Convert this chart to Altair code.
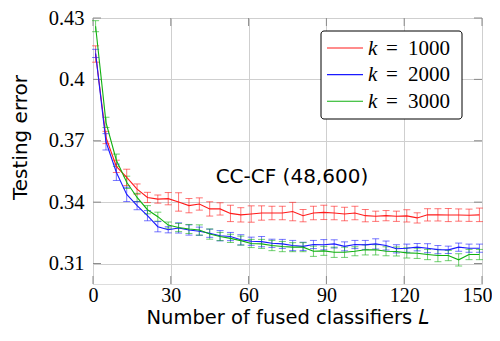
import altair as alt
import pandas as pd

L = [1, 5, 9, 13, 17, 21, 25, 29, 33, 37, 41, 45, 49, 53, 57, 61, 65, 69, 73,
     77, 81, 85, 89, 93, 97, 101, 105, 109, 113, 117, 121, 125, 129, 133, 137,
     141, 145, 149]

err_k1000 = [0.4124, 0.3716, 0.3575, 0.3521, 0.3464, 0.3423, 0.3415, 0.3417, 0.3401,
             0.3383, 0.3391, 0.3367, 0.3367, 0.3345, 0.3338, 0.3342, 0.3347, 0.3347,
             0.3347, 0.3354, 0.3334, 0.3347, 0.3350, 0.3347, 0.3342, 0.3347, 0.3334,
             0.3331, 0.3334, 0.3331, 0.3333, 0.3323, 0.3338, 0.3338, 0.3337, 0.3337,
             0.3336, 0.3338]
sd_k1000 = [0.0040, 0.0030, 0.0030, 0.0040, 0.0025, 0.0025, 0.0020, 0.0030, 0.0045,
            0.0035, 0.0030, 0.0035, 0.0030, 0.0040, 0.0035, 0.0040, 0.0035, 0.0033,
            0.0033, 0.0045, 0.0030, 0.0033, 0.0035, 0.0033, 0.0033, 0.0033, 0.0030,
            0.0025, 0.0025, 0.0025, 0.0030, 0.0025, 0.0030, 0.0030, 0.0032, 0.0030,
            0.0030, 0.0033]

err_k2000 = [0.4127, 0.3695, 0.3546, 0.3438, 0.3383, 0.3334, 0.3280, 0.3265, 0.3274,
             0.3264, 0.3258, 0.3248, 0.3236, 0.3232, 0.3216, 0.3209, 0.3207, 0.3199,
             0.3196, 0.3188, 0.3184, 0.3193, 0.3192, 0.3196, 0.3184, 0.3193, 0.3191,
             0.3196, 0.3188, 0.3172, 0.3175, 0.3180, 0.3175, 0.3168, 0.3167, 0.3180,
             0.3175, 0.3175]
sd_k2000 = [0.0020, 0.0040, 0.0040, 0.0035, 0.0020, 0.0025, 0.0025, 0.0015, 0.0025,
            0.0025, 0.0020, 0.0020, 0.0025, 0.0020, 0.0025, 0.0020, 0.0025, 0.0020,
            0.0022, 0.0025, 0.0020, 0.0020, 0.0025, 0.0020, 0.0022, 0.0020, 0.0022,
            0.0025, 0.0022, 0.0020, 0.0020, 0.0018, 0.0022, 0.0020, 0.0018, 0.0020,
            0.0020, 0.0020]

err_k3000 = [0.4260, 0.3790, 0.3605, 0.3497, 0.3423, 0.3363, 0.3329, 0.3288, 0.3276,
             0.3269, 0.3264, 0.3244, 0.3232, 0.3223, 0.3212, 0.3198, 0.3196, 0.3188,
             0.3183, 0.3180, 0.3180, 0.3160, 0.3162, 0.3155, 0.3155, 0.3160, 0.3167,
             0.3167, 0.3160, 0.3159, 0.3152, 0.3150, 0.3144, 0.3139, 0.3139, 0.3118,
             0.3144, 0.3144]
sd_k3000 = [0.0027, 0.0025, 0.0030, 0.0030, 0.0020, 0.0020, 0.0022, 0.0015, 0.0020,
            0.0022, 0.0025, 0.0025, 0.0020, 0.0020, 0.0022, 0.0020, 0.0022, 0.0025,
            0.0025, 0.0022, 0.0022, 0.0025, 0.0022, 0.0025, 0.0025, 0.0022, 0.0025,
            0.0025, 0.0022, 0.0022, 0.0025, 0.0025, 0.0025, 0.0030, 0.0025, 0.0030,
            0.0025, 0.0025]

series = ["k = 1000", "k = 2000", "k = 3000"]
series_num = ["1000", "2000", "3000"]
colors = ["#ff1a1a", "#1a1aff", "#10b010"]

x_ticks = [0, 30, 60, 90, 120, 150]
y_ticks = [0.31, 0.34, 0.37, 0.40, 0.43]

SERIF = "Liberation Serif"
SANS = "DejaVu Sans"

W, H = 389, 266

rows = []
for name, vals, sds in zip(series, [err_k1000, err_k2000, err_k3000],
                           [sd_k1000, sd_k2000, sd_k3000]):
    for l, v, s in zip(L, vals, sds):
        rows.append({"L": l, "err": v, "lo": v - s, "hi": v + s, "series": name})
df = pd.DataFrame(rows)

xs = alt.Scale(domain=[0, 150], nice=False, zero=False)
ys = alt.Scale(domain=[0.30, 0.43], nice=False, zero=False)
cs = alt.Scale(domain=series, range=colors)

x_axis = alt.Axis(values=x_ticks, grid=True, gridColor="#cfcfcf", gridWidth=1,
                  ticks=False, domain=False, labelFont=SERIF, labelFlush=False,
                  labelAlign=alt.condition("datum.value == 150", alt.value("right"),
                                           alt.value("center")),
                  labelOffset=alt.condition("datum.value == 150", alt.value(10),
                                            alt.value(0)),
                  labelFontSize=20, labelColor="#000", labelPadding=1,
                  title="Number of fused classifiers 𝐿", titleFont=SANS,
                  titleFontSize=19.5, titleFontWeight="normal", titleColor="#000",
                  titleBaseline="alphabetic", titleY=39)
y_axis = alt.Axis(values=y_ticks, grid=True, gridColor="#cfcfcf", gridWidth=1,
                  ticks=False, domain=False, format=".2~f", labelFlush=False,
                  labelFont=SERIF, labelFontSize=20.5, labelColor="#000",
                  labelPadding=9, title="Testing error", titleFont=SANS,
                  titleFontSize=20, titleFontWeight="normal", titleColor="#000",
                  titleAngle=270, titleBaseline="alphabetic", titleX=-67,
                  titleY=119, titleAlign="center")

base = alt.Chart(df)

lines = base.mark_line(strokeWidth=1.1, clip=True).encode(
    x=alt.X("L:Q", scale=xs, axis=x_axis),
    y=alt.Y("err:Q", scale=ys, axis=y_axis),
    color=alt.Color("series:N", scale=cs, legend=None),
    detail="series:N",
)

bars = base.mark_rule(strokeWidth=1, opacity=0.6).encode(
    x="L:Q", y="lo:Q", y2="hi:Q",
    color=alt.Color("series:N", scale=cs, legend=None),
)
caps_lo = base.mark_tick(orient="horizontal", size=7, thickness=1, opacity=0.6).encode(
    x="L:Q", y="lo:Q", color=alt.Color("series:N", scale=cs, legend=None))
caps_hi = base.mark_tick(orient="horizontal", size=7, thickness=1, opacity=0.6).encode(
    x="L:Q", y="hi:Q", color=alt.Color("series:N", scale=cs, legend=None))

xt = pd.DataFrame({"t": x_ticks})
yt = pd.DataFrame({"t": y_ticks})
tick_col = "#8a8a8a"
xt_bot = alt.Chart(xt).mark_rule(color=tick_col, strokeWidth=1).encode(
    x="t:Q", y=alt.value(H), y2=alt.value(H - 8))
xt_top = alt.Chart(xt).mark_rule(color=tick_col, strokeWidth=1).encode(
    x="t:Q", y=alt.value(0), y2=alt.value(8))
yt_left = alt.Chart(yt).mark_rule(color=tick_col, strokeWidth=1).encode(
    y="t:Q", x=alt.value(0), x2=alt.value(8))
yt_right = alt.Chart(yt).mark_rule(color=tick_col, strokeWidth=1).encode(
    y="t:Q", x=alt.value(W), x2=alt.value(W - 8))

ann = alt.Chart(pd.DataFrame({"x": [76.7], "y": [0.3495], "t": ["CC-CF (48,600)"]})).mark_text(
    font=SANS, fontSize=20, align="center", baseline="alphabetic", color="#000"
).encode(x="x:Q", y="y:Q", text="t:N")

one = pd.DataFrame({"a": [0]})
legend_box = alt.Chart(one).mark_rect(fill="white", stroke="#000", strokeWidth=1,
                                      cornerRadius=3).encode(
    x=alt.value(228), x2=alt.value(369), y=alt.value(13), y2=alt.value(101))

leg_layers = [legend_box]
for i, (num, col) in enumerate(zip(series_num, colors)):
    yc = 30 + i * 26.6
    yb = 36.5 + i * 26.6
    leg_layers.append(alt.Chart(one).mark_rule(color=col, strokeWidth=1.1).encode(
        x=alt.value(234), x2=alt.value(270), y=alt.value(yc)))
    leg_layers.append(alt.Chart(one).mark_text(
        text="k", font=SERIF, fontStyle="italic", fontSize=21,
        align="left", baseline="alphabetic", color="#000").encode(
        x=alt.value(275), y=alt.value(yb)))
    leg_layers.append(alt.Chart(one).mark_text(
        text="=", font=SERIF, fontSize=21,
        align="left", baseline="alphabetic", color="#000").encode(
        x=alt.value(293), y=alt.value(yb)))
    leg_layers.append(alt.Chart(one).mark_text(
        text=num, font=SERIF, fontSize=21,
        align="left", baseline="alphabetic", color="#000").encode(
        x=alt.value(315), y=alt.value(yb)))

chart = alt.layer(
    xt_bot, xt_top, yt_left, yt_right, bars, caps_lo, caps_hi, lines, ann, *leg_layers
).properties(
    width=W, height=H,
    autosize=alt.AutoSizeParams(type="none"),
    padding={"left": 85, "top": 10, "right": 10, "bottom": 49},
).configure_view(stroke="#000", strokeWidth=1.2
).configure(background="white")

chart.save("out.html", embed_options={"renderer": "svg", "actions": False})
